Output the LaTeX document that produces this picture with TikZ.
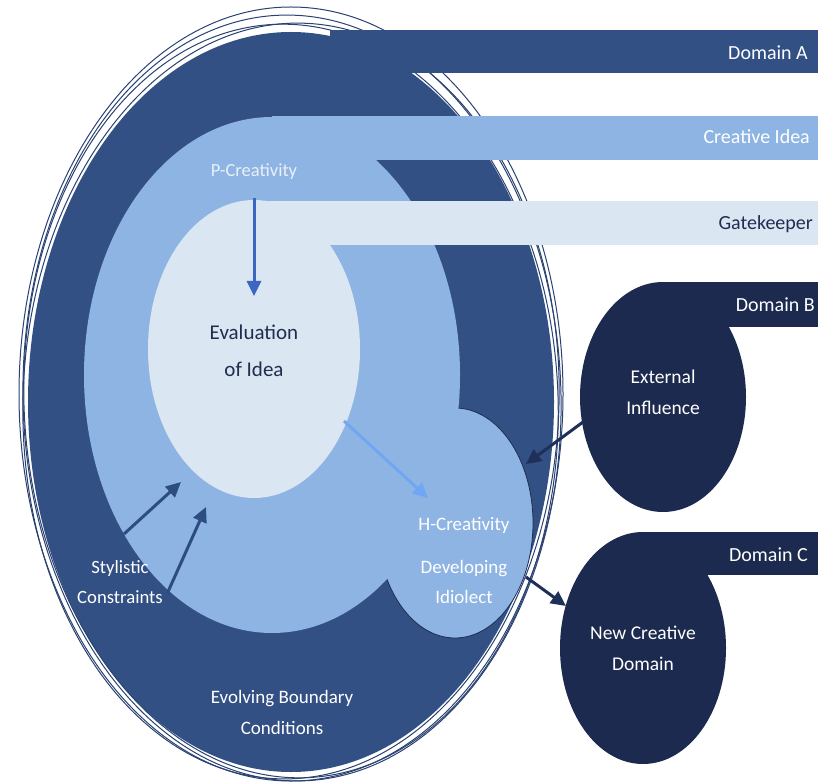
\documentclass[tikz,border=0pt]{standalone}
\usepackage{fontspec}
\setmainfont{Carlito}
\usetikzlibrary{arrows.meta}
\definecolor{ringdark}{HTML}{325083}
\definecolor{ringlight}{HTML}{8EB4E3}
\definecolor{ringpale}{HTML}{DAE6F2}
\definecolor{navy}{HTML}{1B2A4E}
\definecolor{textnavy}{HTML}{1F2D4F}
\definecolor{arrowmid}{HTML}{3B66C2}
\definecolor{arrowlight}{HTML}{6FA7F2}
\definecolor{arrowdark}{HTML}{1E2F58}
\definecolor{arrowsty}{HTML}{2D4C80}
\definecolor{rimcol}{HTML}{2A4272}
\begin{document}
\begin{tikzpicture}[x=1pt,y=-1pt,
  lbl/.style={font=\fontsize{20}{24}\selectfont, text=white, inner sep=0pt, align=center},
  lblr/.style={lbl, anchor=east},
  arr/.style={line width=3pt, -{Triangle[length=15pt,width=14pt]}},
  rim/.style={draw=rimcol, line width=1pt}
]
\useasboundingbox (0,0) rectangle (818,783);
\fill[white] (0,0) rectangle (818,783);

% main dark ring
\fill[ringdark] (291,402) ellipse [x radius=263pt, y radius=370pt];
% H-creativity bump
\filldraw[fill=ringlight, draw=textnavy, line width=0.8pt] (455,523) ellipse [x radius=78pt, y radius=115pt];
% light ring
\fill[ringlight] (272,375) ellipse [x radius=188pt, y radius=258pt];
% pale core
\fill[ringpale] (254,349) ellipse [x radius=106pt, y radius=149pt];

% outer rims
\draw[rim] (291,394) ellipse [x radius=272pt, y radius=387pt];
\draw[rim, rotate around={1.5:(292,398)}] (292,398) ellipse [x radius=269pt, y radius=383pt];
\draw[rim, rotate around={2.5:(291,401)}] (291,401) ellipse [x radius=267pt, y radius=377pt];
\draw[rim, rotate around={-2:(291,401)}] (291,401) ellipse [x radius=268pt, y radius=378pt];

% bars
\fill[ringdark] (330,30) rectangle (818,73);
\fill[ringlight] (272,116) rectangle (818,160);
\fill[ringpale] (254,201) rectangle (818,245);

% Domain B and C
\fill[navy] (663,397) ellipse [x radius=83pt, y radius=115pt];
\fill[navy] (663,282) rectangle (818,327);
\fill[navy] (643,648) ellipse [x radius=83pt, y radius=116pt];
\fill[navy] (643,532) rectangle (818,575);

% labels
\node[lblr] (domA) at (808,53) {Domain A};
\node[lblr] (idea) at (810,137) {Creative Idea};
\node[lblr, text=textnavy] (gate) at (813,224) {Gatekeeper};
\node[lblr] (domB) at (815,305) {Domain B};
\node[lblr] (domC) at (808,555) {Domain C};

\node[lbl, font=\fontsize{18.5}{22}\selectfont, text=ringpale!60!white] (pcre) at (254,172) {P-Creativity};
\node[lbl, font=\fontsize{21}{37}\selectfont, text=textnavy] (eval) at (254,351) {Evaluation\\of Idea};
\node[lbl, font=\fontsize{19.5}{31}\selectfont] (ext) at (663,392) {External\\Influence};
\node[lbl, font=\fontsize{19}{23}\selectfont] (hcre) at (464,525) {H-Creativity};
\node[lbl, font=\fontsize{19}{30}\selectfont] (idio) at (464,582) {Developing\\Idiolect};
\node[lbl, font=\fontsize{19.5}{31}\selectfont] (newd) at (643,648) {New Creative\\Domain};
\node[lbl, font=\fontsize{18.7}{30}\selectfont] (styl) at (120,582) {Stylistic\\Constraints};
\node[lbl, font=\fontsize{19}{31}\selectfont] (evol) at (282,712) {Evolving Boundary\\Conditions};

% arrow end points
\coordinate (p1) at (254,198);
\coordinate (p2) at (254,296);
\coordinate (l1) at (344,421);
\coordinate (l2) at (428,498);
\coordinate (e1) at (583,422);
\coordinate (e2) at (526,464);
\coordinate (n1) at (526,577);
\coordinate (n2) at (566,606);
\coordinate (s1) at (124,534);
\coordinate (s2) at (181,482);
\coordinate (s3) at (167,594);
\coordinate (s4) at (206,507);

\draw[arr, arrowmid] (p1) -- (p2);
\draw[arr, arrowlight] (l1) -- (l2);
\draw[arr, arrowdark] (e1) -- (e2);
\draw[arr, arrowdark] (n1) -- (n2);
\draw[arr, arrowsty] (s1) -- (s2);
\draw[arr, arrowsty] (s3) -- (s4);
\end{tikzpicture}
\end{document}
